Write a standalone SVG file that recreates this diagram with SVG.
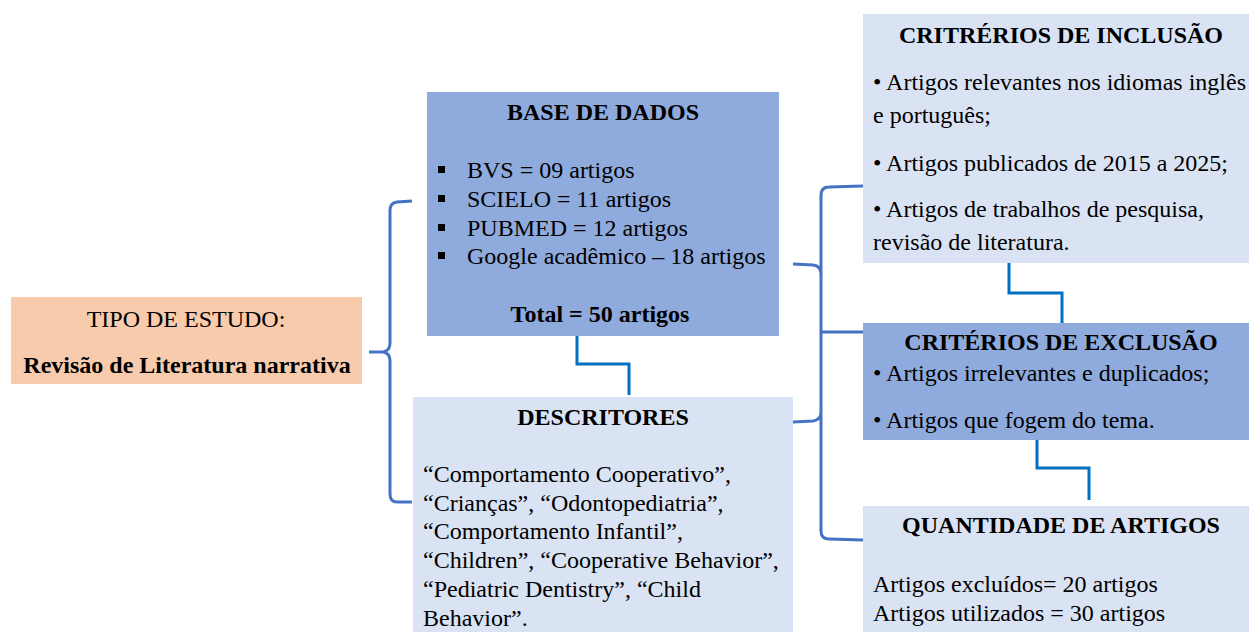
<svg xmlns="http://www.w3.org/2000/svg" width="1249" height="632" viewBox="0 0 1249 632">
<style>
text{font-family:"Liberation Serif","Times New Roman",serif;font-size:24px;fill:#000}
.b{font-weight:bold}
.c{text-anchor:middle}
.dark{fill:#8FAADC}
.light{fill:#DAE3F3}
.brace{fill:none;stroke:#4472C4;stroke-width:3}
.step{fill:none;stroke:#0070C0;stroke-width:3}
</style>
<rect width="1249" height="632" fill="#fff"/>
<g id="connectors">
<path class="brace" d="M412,201 L397,202 Q390,203 390,210 L390,343 Q390,351 383,352 L369,352 M383,352 Q390,353 390,361 L390,494 Q390,502 397,502 L412,502"/>
<path class="brace" d="M863,186 L829,187 Q821,187 821,195 L821,531 Q821,539 829,539 L863,540 M793,264 L813,265 Q821,266 821,274 M793,422 L813,421 Q821,420 821,412 M821,332 L863,332"/>
<path class="step" d="M577,336 L577,364 L629,364 L629,395"/>
<path class="step" d="M1009,263 L1009,293 L1062,293 L1062,323"/>
<path class="step" d="M1037,440 L1037,468 L1089,468 L1089,500"/>
</g>
<g id="tipo">
<rect x="11" y="297" width="351" height="87" fill="#F8CBAD"/>
<text class="c" x="186" y="327">TIPO DE ESTUDO:</text>
<text class="c b" x="187" y="373">Revisão de Literatura narrativa</text>
</g>
<g id="base">
<rect class="dark" x="427" y="92" width="352" height="244"/>
<text class="c b" x="603" y="120">BASE DE DADOS</text>
<rect x="438" y="166" width="7" height="7"/>
<rect x="438" y="195" width="7" height="7"/>
<rect x="438" y="224" width="7" height="7"/>
<rect x="438" y="252" width="7" height="7"/>
<text x="467" y="178">BVS = 09 artigos</text>
<text x="467" y="207">SCIELO = 11 artigos</text>
<text x="467" y="236">PUBMED = 12 artigos</text>
<text x="467" y="264">Google acadêmico – 18 artigos</text>
<text class="c b" x="600" y="322">Total = 50 artigos</text>
</g>
<g id="descritores">
<rect class="light" x="413" y="397" width="380" height="235"/>
<text class="c b" x="603" y="425">DESCRITORES</text>
<text x="423" y="482">“Comportamento Cooperativo”,</text>
<text x="423" y="511">“Crianças”, “Odontopediatria”,</text>
<text x="423" y="539">“Comportamento Infantil”,</text>
<text x="423" y="568">“Children”, “Cooperative Behavior”,</text>
<text x="423" y="597">“Pediatric Dentistry”, “Child</text>
<text x="423" y="626">Behavior”.</text>
</g>
<g id="inclusao">
<rect class="light" x="863" y="14" width="386" height="249"/>
<text class="c b" x="1061" y="43">CRITRÉRIOS DE INCLUSÃO</text>
<text x="873" y="90">• Artigos relevantes nos idiomas inglês</text>
<text x="873" y="123">e português;</text>
<text x="873" y="171">• Artigos publicados de 2015 a 2025;</text>
<text x="873" y="217">• Artigos de trabalhos de pesquisa,</text>
<text x="873" y="250">revisão de literatura.</text>
</g>
<g id="exclusao">
<rect class="dark" x="863" y="323" width="386" height="117"/>
<text class="c b" x="1061" y="350">CRITÉRIOS DE EXCLUSÃO</text>
<text x="873" y="381">• Artigos irrelevantes e duplicados;</text>
<text x="873" y="428">• Artigos que fogem do tema.</text>
</g>
<g id="quantidade">
<rect class="light" x="863" y="506" width="386" height="126"/>
<text class="c b" x="1061" y="533">QUANTIDADE DE ARTIGOS</text>
<text x="873" y="592">Artigos excluídos= 20 artigos</text>
<text x="873" y="621">Artigos utilizados = 30 artigos</text>
</g>
</svg>
